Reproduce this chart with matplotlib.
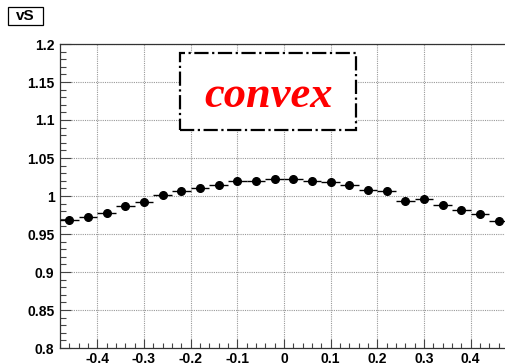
#!/usr/bin/env python3
"""vS vs x profile, ROOT-style look with a 'convex' label."""

import matplotlib
matplotlib.use("Agg")
import matplotlib.pyplot as plt
from matplotlib.patches import Rectangle
from matplotlib.ticker import MultipleLocator
import numpy as np

# bin centers (bin width 0.04) and values
x_centers = [-0.46, -0.42, -0.38, -0.34, -0.30, -0.26, -0.22, -0.18,
             -0.14, -0.10, -0.06, -0.02, 0.02, 0.06, 0.10, 0.14,
             0.18, 0.22, 0.26, 0.30, 0.34, 0.38, 0.42, 0.46]
vs_values = [0.968, 0.973, 0.978, 0.987, 0.992, 1.001, 1.006, 1.011,
             1.015, 1.020, 1.020, 1.0225, 1.0225, 1.020, 1.018, 1.015,
             1.0075, 1.0065, 0.994, 0.9965, 0.988, 0.981, 0.976, 0.967]
bin_half_width = 0.02

title_text = "vS"
label_text = "convex"


def main() -> None:
    plt.rcParams["font.family"] = ["Liberation Sans", "DejaVu Sans"]

    W, H = 505, 364
    fig = plt.figure(figsize=(W / 100, H / 100), dpi=100)
    ax = fig.add_axes([60 / W, 1 - 348 / H, 448 / W, 304 / H])

    x = np.array(x_centers)
    y = np.array(vs_values)
    ax.errorbar(x, y, xerr=bin_half_width, fmt="o", color="black",
                ms=5.5, elinewidth=1.0, capsize=0, zorder=3)

    ax.set_xlim(-0.48, 0.48)
    ax.set_ylim(0.8, 1.2)

    ax.xaxis.set_minor_locator(MultipleLocator(0.02))
    ax.yaxis.set_minor_locator(MultipleLocator(0.01))
    ax.set_xticks(np.round(np.arange(-0.4, 0.41, 0.1), 1))
    ax.set_xticklabels(["-0.4", "-0.3", "-0.2", "-0.1", "0", "0.1", "0.2", "0.3", "0.4"])
    ax.set_yticks(np.round(np.arange(0.8, 1.201, 0.05), 2))
    ax.set_yticklabels(["0.8", "0.85", "0.9", "0.95", "1", "1.05", "1.1", "1.15", "1.2"])

    ax.tick_params(axis="both", which="both", direction="in", top=False, right=False,
                   labelsize=10, width=0.8, color="#444444")
    ax.tick_params(axis="y", which="major", length=8, pad=4)
    ax.tick_params(axis="y", which="minor", length=4.5)
    ax.tick_params(axis="x", which="major", length=6.5, pad=3)
    ax.tick_params(axis="x", which="minor", length=3.5)
    for lab in ax.get_xticklabels() + ax.get_yticklabels():
        lab.set_fontweight("bold")

    ax.grid(True, which="major", color="0.6", linestyle=(0, (1, 1)), linewidth=0.8)
    ax.set_axisbelow(True)
    for side in ("left", "bottom", "top"):
        ax.spines[side].set_linewidth(0.9)
        ax.spines[side].set_color("#333333")

    # dash-dot pave with the red label
    ax.add_patch(Rectangle((-0.222, 1.087), 0.376, 0.101, fill=True, facecolor="white",
                           edgecolor="black", linestyle="dashdot", linewidth=1.6, zorder=4))
    ax.text(-0.032, 1.131, label_text, color="#ff0000", fontsize=32, style="italic",
            fontweight="bold", family=["Liberation Serif", "DejaVu Serif"],
            ha="center", va="center", zorder=5)

    # title box in the top-left corner
    fig.patches.append(Rectangle((8 / W, 1 - 25 / H), 35 / W, 18 / H, transform=fig.transFigure,
                                 facecolor="white", edgecolor="black", linewidth=0.9))
    fig.text(25.5 / W, 1 - 16.5 / H, title_text, fontsize=11, fontweight="bold",
             ha="center", va="center")

    fig.savefig("out.png", dpi=100)


if __name__ == "__main__":
    main()
